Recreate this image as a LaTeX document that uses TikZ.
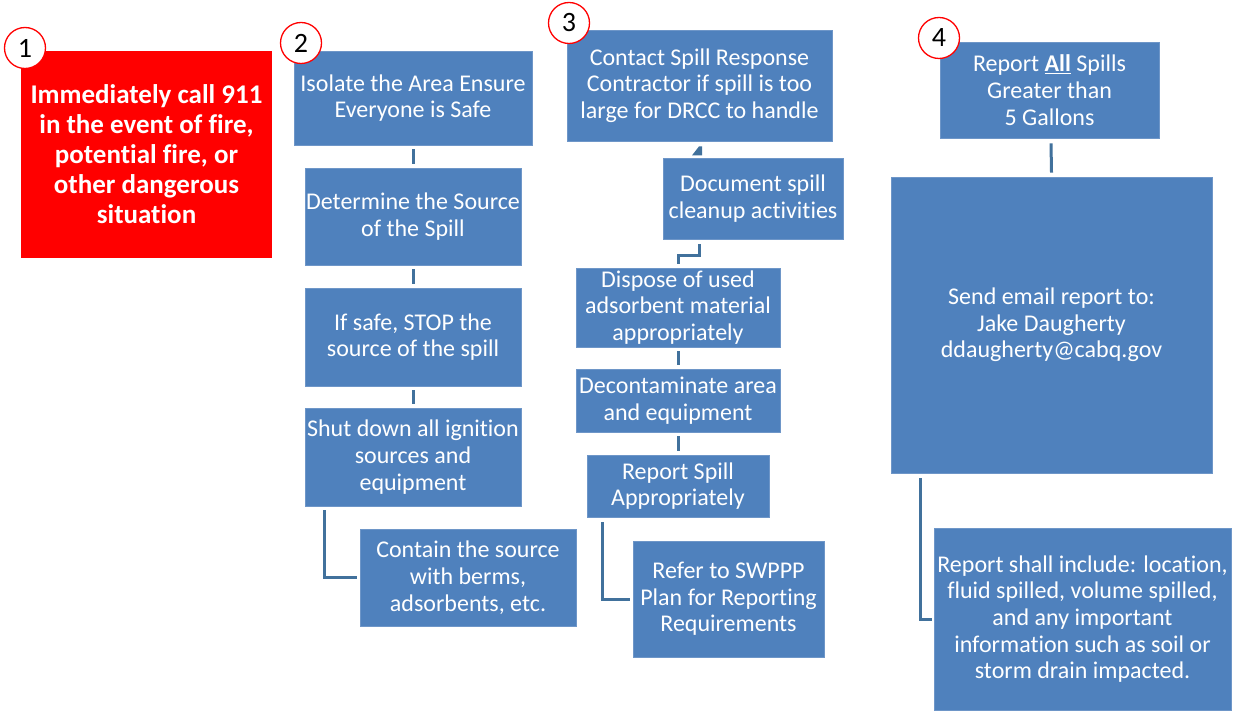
\documentclass[tikz,border=0pt]{standalone}
\usepackage{fontspec}
\setmainfont{Carlito}[Ligatures={NoCommon}]
\usetikzlibrary{calc}
\definecolor{boxblue}{RGB}{79,129,189}
\definecolor{boxedge}{RGB}{110,150,200}
\definecolor{connblue}{RGB}{65,113,156}
\definecolor{alarmred}{RGB}{255,0,0}
\begin{document}
\begin{tikzpicture}[x=1pt,y=-1pt,
  bbox/.style={fill=boxblue, draw=boxedge, line width=0.8pt, text=white, align=center,
    inner sep=0pt, font=\fontsize{24}{26.7}\selectfont},
  redbox/.style={fill=alarmred, draw=none, text=white, align=center, inner sep=0pt,
    font=\fontsize{27}{30}\selectfont\bfseries},
  numcirc/.style={circle, fill=white, draw=alarmred, line width=1.3pt, minimum size=41pt,
    inner sep=0pt, font=\fontsize{28}{28}\selectfont, text=black},
  conn/.style={draw=connblue, line width=3pt},
  vconn/.style={conn, shorten <=4pt, shorten >=4pt}
]
\useasboundingbox[fill=white] (0,0) rectangle (1233,719);

% Column 1
\node[redbox, minimum width=251pt, minimum height=207pt] (R) at (146.5,154.5)
  {Immediately call 911\\in the event of fire,\\potential fire, or\\other dangerous\\situation};

% Column 2
\node[bbox, minimum width=238pt, minimum height=94pt] (B1) at (413,98)
  {Isolate the Area Ensure\\Everyone is Safe};
\node[bbox, minimum width=216pt, minimum height=97pt] (B2) at (413,216.5)
  {Determine the Source\\of the Spill};
\node[bbox, minimum width=216pt, minimum height=98pt] (B3) at (413,337)
  {If safe, STOP the\\source of the spill};
\node[bbox, minimum width=216pt, minimum height=98pt] (B4) at (413,457)
  {Shut down all ignition\\sources and\\equipment};
\node[bbox, minimum width=216pt, minimum height=97pt] (B5) at (468,577.5)
  {Contain the source\\with berms,\\adsorbents, etc.};

% Column 3
\node[bbox, minimum width=265pt, minimum height=111pt] (C1) at (699.5,85.5)
  {Contact Spill Response\\Contractor if spill is too\\large for DRCC to handle};
\node[bbox, minimum width=180pt, minimum height=81pt] (C2) at (753,198.5)
  {Document spill\\cleanup activities};
\node[bbox, minimum width=204pt, minimum height=79pt] (C3) at (678,307.5)
  {Dispose of used\\adsorbent material\\appropriately};
\node[bbox, minimum width=204pt, minimum height=63pt] (C4) at (678,400.5)
  {Decontaminate area\\and equipment};
\node[bbox, minimum width=182pt, minimum height=62pt] (C5) at (678,486)
  {Report Spill\\Appropriately};
\node[bbox, minimum width=191pt, minimum height=116pt] (C6) at (728.5,599)
  {Refer to SWPPP\\Plan for Reporting\\Requirements};

% Column 4
\node[bbox, minimum width=219pt, minimum height=96pt] (D1) at (1049.5,90)
  {Report \textbf{\underline{All}} Spills\\Greater than\\5 Gallons};
\node[bbox, minimum width=321pt, minimum height=296pt] (D2) at (1051.5,325)
  {Send email report to:\\Jake Daugherty\\ddaugherty@cabq.gov};
\node[bbox, minimum width=297pt, minimum height=182pt] (D3) at (1082.5,619)
  {Report shall include: location,\\fluid spilled, volume spilled,\\and any important\\information such as soil or\\storm drain impacted.};

% Connectors column 2
\draw[vconn] (B1) -- (B2);
\draw[vconn] (B2) -- (B3);
\draw[vconn] (B3) -- (B4);
\draw[conn] ([xshift=20pt,yshift=-4pt]B4.south west) |- ([xshift=-3pt]B5.west);

% Connectors column 3
\draw[vconn] (C3) -- (C4);
\draw[vconn] (C4) -- (C5);
\draw[conn] ([xshift=16pt,yshift=-5pt]C5.south west) |- ([xshift=-3pt]C6.west);
\draw[conn] ([yshift=4pt]C3.north) -- ++(0,-8) -| ([xshift=37pt,yshift=-5pt]C2.south west);
\fill[connblue] ([xshift=-0.5pt,yshift=-5pt]C1.south) -- ++(3,0) -- ++(0,9) -- ++(-10,0) -- cycle;

% Connectors column 4
\draw[conn] ([xshift=1.5pt,yshift=-5pt]D1.south) -- ([yshift=4pt]D2.north);
\draw[conn] ([xshift=30pt,yshift=-5pt]D2.south west) |- ([xshift=-2pt]D3.west);

% Number circles
\node[numcirc] (N1) at (25,48) {1};
\node[numcirc] (N2) at (301,43) {2};
\node[numcirc] (N3) at (569,23) {3};
\node[numcirc] (N4) at (939,38) {4};
\end{tikzpicture}
\end{document}
